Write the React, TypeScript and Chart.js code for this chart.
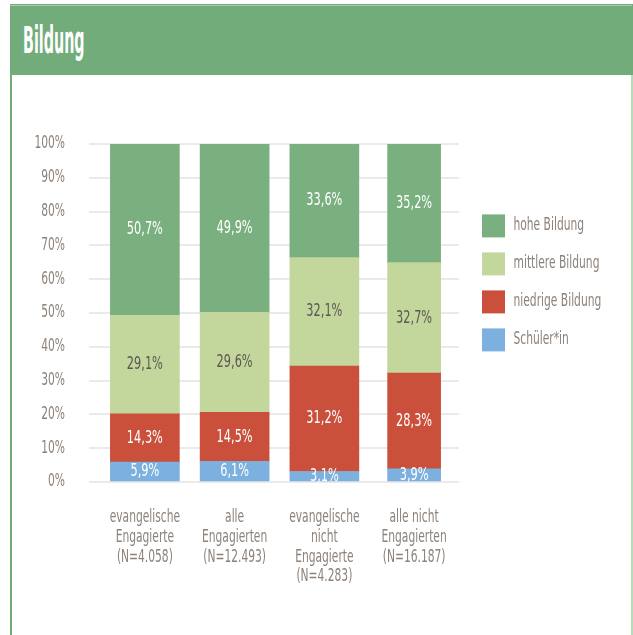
import React, { useEffect, useRef } from "react";
import { Chart, registerables } from "chart.js";

Chart.register(...registerables);

// ---- data ----
const categories: string[][] = [
  ["evangelische", "Engagierte", "(N=4.058)"],
  ["alle", "Engagierten", "(N=12.493)"],
  ["evangelische", "nicht", "Engagierte", "(N=4.283)"],
  ["alle nicht", "Engagierten", "(N=16.187)"],
];
const seriesNames = ["Schüler*in", "niedrige Bildung", "mittlere Bildung", "hohe Bildung"];
const schueler = [5.9, 6.1, 3.1, 3.9];
const niedrig = [14.3, 14.5, 31.2, 28.3];
const mittel = [29.1, 29.6, 32.1, 32.7];
const hoch = [50.7, 49.9, 33.6, 35.2];
const yTickValues = [0, 10, 20, 30, 40, 50, 60, 70, 80, 90, 100];

// ---- styles ----
const FONT = "'DejaVu Sans Condensed', 'Liberation Sans Narrow', 'DejaVu Sans', sans-serif";
const seriesColors = ["#7cb0de", "#cb503c", "#c3d69c", "#7aaf7f"];
const labelColors = ["#ffffff", "#ffffff", "#5d5853", "#ffffff"];
const GRAY = "#8c827a";
const TEXT_SCALE = 0.7;

const fmt = (v: number) => v.toFixed(1).replace(".", ",") + "%";

// draw all canvas text horizontally condensed (the reference uses a condensed face)
const condensedText = {
  id: "condensedText",
  beforeInit(chart: any) {
    const ctx = chart.ctx;
    if (ctx.__condensed) return;
    const orig = ctx.fillText;
    ctx.fillText = function (text: string, x: number, y: number, maxWidth?: number) {
      this.save();
      this.translate(x, y);
      this.scale(TEXT_SCALE, 1);
      if (maxWidth !== undefined && maxWidth !== null) orig.call(this, text, 0, 0, maxWidth / TEXT_SCALE);
      else orig.call(this, text, 0, 0);
      this.restore();
    };
    ctx.__condensed = true;
  },
};

const valueLabels = {
  id: "valueLabels",
  afterDatasetsDraw(chart: any) {
    const ctx = chart.ctx;
    const area = chart.chartArea;
    chart.data.datasets.forEach((ds: any, di: number) => {
      const meta = chart.getDatasetMeta(di);
      meta.data.forEach((el: any, i: number) => {
        const v = ds.data[i];
        if (v == null) return;
        const p = el.getProps(["x", "y", "base"], true);
        const top = Math.max(Math.min(p.y, p.base), area.top);
        const bottom = Math.max(p.y, p.base);
        ctx.save();
        ctx.font = `18px ${FONT}`;
        ctx.fillStyle = ds.valueColor;
        ctx.textAlign = "center";
        ctx.textBaseline = "middle";
        ctx.fillText(fmt(v), p.x, (top + bottom) / 2);
        ctx.restore();
      });
    });
  },
};

const legendWidthFix = {
  id: "legendWidthFix",
  beforeLayout(chart: any) {
    const lg = chart.legend;
    if (lg && !lg.__patched) {
      const orig = lg.fit;
      lg.fit = function () {
        orig.call(this);
        this.width = 163;
      };
      lg.__patched = true;
    }
  },
};

function ChartCanvas() {
  const ref = useRef<HTMLCanvasElement>(null);
  useEffect(() => {
    if (!ref.current) return;
    const all = [schueler, niedrig, mittel, hoch];
    const wide = all.map((vals, s) => ({
      label: seriesNames[s],
      data: vals.map((v, i) => (i < 3 ? v : null)),
      backgroundColor: seriesColors[s],
      borderWidth: 0,
      barThickness: 69,
      stack: "s",
      valueColor: labelColors[s],
    }));
    const narrow = all.map((vals, s) => ({
      label: seriesNames[s],
      data: vals.map((v, i) => (i === 3 ? v : null)),
      backgroundColor: seriesColors[s],
      borderWidth: 0,
      barThickness: 53,
      stack: "s",
      valueColor: labelColors[s],
    }));
    const chart = new Chart(ref.current, {
      type: "bar",
      data: { labels: categories as any, datasets: [...wide, ...narrow] as any },
      options: {
        responsive: false,
        animation: false,
        layout: { padding: { top: 68, left: 0, right: 0, bottom: 0 } },
        scales: {
          x: {
            stacked: true,
            grid: { display: false, drawTicks: false },
            border: { display: false },
            ticks: {
              color: GRAY,
              font: { family: FONT, size: 17, lineHeight: 1.16 },
              padding: 26,
              maxRotation: 0,
              autoSkip: false,
            },
            afterFit: (s: any) => {
              s.height = 153;
            },
          },
          y: {
            stacked: true,
            min: 0,
            max: 100,
            afterBuildTicks: (s: any) => {
              s.ticks = yTickValues.map((v) => ({ value: v }));
            },
            grid: { color: "#eaeaea", lineWidth: 2, tickLength: 11, drawTicks: true },
            border: { display: false },
            ticks: {
              color: GRAY,
              font: { family: FONT, size: 17 },
              padding: 24,
              callback: (v: any) => v + "%",
            },
            afterFit: (s: any) => {
              s.width = 88;
            },
          },
          y2: {
            position: "right",
            display: true,
            grid: { display: false, drawTicks: false },
            border: { display: false },
            ticks: { display: false },
            afterFit: (s: any) => {
              s.width = 8;
            },
          },
        },
        plugins: {
          tooltip: { enabled: false },
          legend: {
            position: "right",
            align: "start",
            fullSize: false,
            reverse: true,
            title: { display: true, text: "", font: { size: 12 }, padding: { top: 41, bottom: 0 } },
            labels: {
              boxWidth: 23,
              boxHeight: 23,
              padding: 15,
              color: GRAY,
              font: { family: FONT, size: 17 },
              filter: (item: any) => item.datasetIndex < 4,
            },
          },
        },
      } as any,
      plugins: [condensedText, valueLabels, legendWidthFix],
    });
    return () => chart.destroy();
  }, []);
  return <canvas ref={ref} width={618} height={559} style={{ display: "block" }} />;
}

export default function App() {
  return (
    <div style={{ position: "absolute", left: 0, top: 0, width: 633, height: 635, overflow: "hidden", background: "#fff" }}>
      <div style={{ position: "absolute", left: 10, top: 4, width: 623, height: 71, background: "#72ac7b" }} />
      <div style={{ position: "absolute", left: 10, top: 5, width: 622, height: 1, background: "#a6cfac" }} />
      <div
        style={{
          position: "absolute",
          left: 23,
          top: 23,
          color: "#fff",
          fontFamily: FONT,
          fontWeight: 700,
          fontSize: 37,
          lineHeight: "36px",
          transform: "scaleX(0.43)",
          transformOrigin: "left center",
          whiteSpace: "nowrap",
        }}
      >
        Bildung
      </div>
      <div style={{ position: "absolute", left: 10, top: 75, width: 2, height: 560, background: "#72ac7b" }} />
      <div style={{ position: "absolute", left: 631, top: 75, width: 2, height: 560, background: "#b3dcba" }} />
      <div style={{ position: "absolute", left: 12, top: 76 }}>
        <ChartCanvas />
      </div>
    </div>
  );
}
